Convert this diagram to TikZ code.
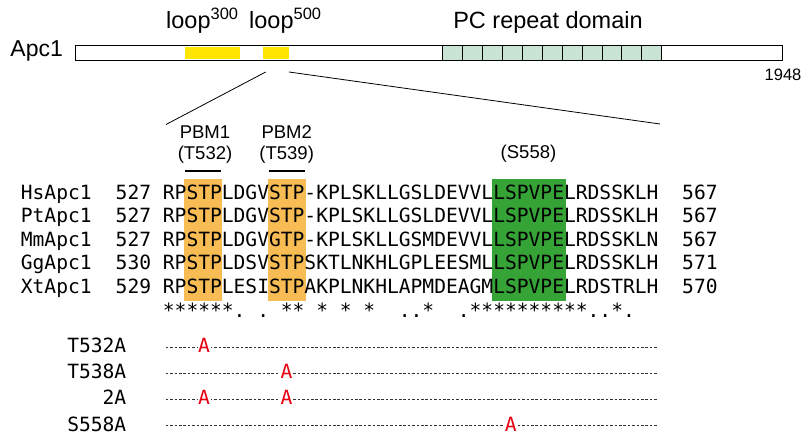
\documentclass[tikz,border=0pt]{standalone}
\definecolor{loopyellow}{RGB}{255, 230, 0}
\definecolor{pcgreen}{RGB}{201, 228, 212}
\definecolor{pbmorange}{RGB}{248, 188, 84}
\definecolor{sitegreen}{RGB}{54, 163, 54}
\definecolor{mutred}{RGB}{230, 0, 18}
\usepackage{fontspec}
\setmainfont{Liberation Sans}
\newfontfamily\seqfont{DejaVu Sans Mono}
\usepackage{tikz}
\usetikzlibrary{positioning, calc}

\begin{document}
\begin{tikzpicture}[x=1pt, y=-1pt,
  seqtext/.style={font=\seqfont\fontsize{19.6}{23.5}\selectfont, inner sep=0pt, anchor=base west},
  lbltext/.style={font=\fontsize{18.5}{20}\selectfont, inner sep=0pt},
  bigtext/.style={font=\fontsize{23.5}{25}\selectfont, inner sep=0pt},
  muttext/.style={seqtext, text=mutred, fill=white, inner xsep=0.6pt, anchor=base},
  zoomline/.style={line width=0.8pt},
  dotline/.style={line width=0.7pt, black!80, dash pattern=on 2.6pt off 1.8pt},
]
  \useasboundingbox (0,0) rectangle (803,439);

  % protein bar
  \foreach \k in {0,...,10}
    \draw[fill=pcgreen, line width=0.7pt] ({442.7+\k*19.9},45) rectangle ++(19.9,15);
  \fill[loopyellow] (185,47) rectangle (240,59);
  \fill[loopyellow] (263,47) rectangle (289,59);
  \draw[line width=0.9pt] (75,45) rectangle (782,60);

  \node[bigtext, font=\fontsize{23}{25}\selectfont] (apc) at (36.7,51) {Apc1};
  \node[bigtext, anchor=base west] (loopA) at (166,28.3) {loop\textsuperscript{300}};
  \node[bigtext, anchor=base west] (loopB) at (249,28.3) {loop\textsuperscript{500}};
  \node[bigtext, anchor=base] (pcrep) at (548,28.3) {PC repeat domain};
  \node[font=\fontsize{16.5}{18}\selectfont, inner sep=0pt] (len) at (783,75) {1948};

  % zoom lines
  \coordinate (zl) at (265.7,72);
  \coordinate (zr) at (289,72);
  \coordinate (al) at (166,124.5);
  \coordinate (ar) at (660,124);
  \draw[zoomline] (zl) -- (al);
  \draw[zoomline] (zr) -- (ar);

  % motif labels
  \node[lbltext] (pbm1) at (205,131.7) {PBM1};
  \node[lbltext] (t532) at (205,155) {(T532)};
  \node[lbltext] (pbm2) at (286.7,131.7) {PBM2};
  \node[lbltext] (t539) at (286.7,155) {(T539)};
  \node[lbltext] (s558) at (528.5,153.3) {(S558)};
  \draw[line width=2.4pt] (185,171) -- (220.7,171);
  \draw[line width=2.4pt] (269.3,171) -- (305,171);

  % highlighted columns
  \fill[pbmorange] (184.3,179) rectangle (221.7,301);
  \fill[pbmorange] (268.3,179) rectangle (306,301);
  \fill[sitegreen] (492,179) rectangle (566,301);

  % alignment
  \foreach \nm/\st/\sq/\en [count=\i] in {
      HsApc1/527/RPSTPLDGVSTP-KPLSKLLGSLDEVVLLSPVPELRDSSKLH/567,
      PtApc1/527/RPSTPLDGVSTP-KPLSKLLGSLDEVVLLSPVPELRDSSKLH/567,
      MmApc1/527/RPSTPLDGVGTP-KPLSKLLGSMDEVVLLSPVPELRDSSKLN/567,
      GgApc1/530/RPSTPLDSVSTPSKTLNKHLGPLEESMLLSPVPELRDSSKLH/571,
      XtApc1/529/RPSTPLESISTPAKPLNKHLAPMDEAGMLSPVPELRDSTRLH/570} {
    \node[seqtext] (nm\i) at (20.7,{199.3+23.5*(\i-1)}) {\nm};
    \node[seqtext] (st\i) at (115.5,{199.3+23.5*(\i-1)}) {\st};
    \node[seqtext] (sq\i) at (162.7,{199.3+23.5*(\i-1)}) {\sq};
    \node[seqtext] (en\i) at (682,{199.3+23.5*(\i-1)}) {\en};
  }
  \node[seqtext] (cons) at (162.7,317) {******.~.~**~*~*~*~~..*~~.**********..*.};

  % mutants
  \foreach \mt/\yy [count=\i] in {T532A/352.7, T538A/378.8, 2A/404.9, S558A/431} {
    \node[seqtext, anchor=base east] (mt\i) at (126.5,\yy) {\mt};
    \coordinate (ms\i) at (165.7,\yy-5.4);
    \coordinate (me\i) at (657.7,\yy-5.4);
    \draw[dotline] (ms\i) -- (me\i);
  }
  \node[muttext] (a1) at (204,352.7) {A};
  \node[muttext] (a2) at (286.6,378.8) {A};
  \node[muttext] (a3) at (204,404.9) {A};
  \node[muttext] (a4) at (286.6,404.9) {A};
  \node[muttext] (a5) at (510.8,431) {A};
\end{tikzpicture}
\end{document}
